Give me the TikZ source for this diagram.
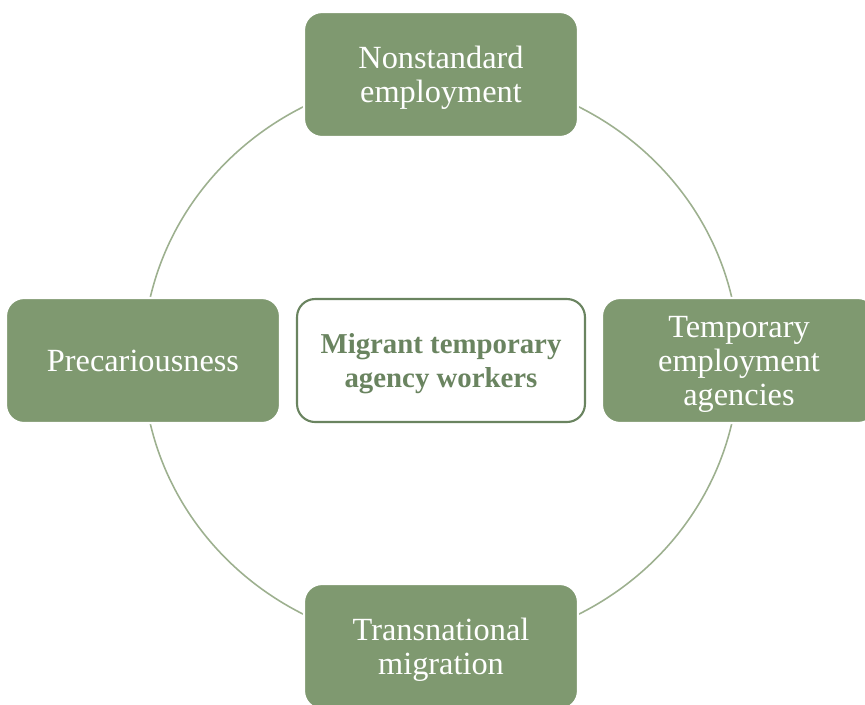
\documentclass[tikz,border=0pt]{standalone}
\usepackage{fontspec}
\setmainfont{Liberation Serif}
\usetikzlibrary{
    positioning,
    calc,
    backgrounds
}
\definecolor{sage}{HTML}{7F9970}
\definecolor{sagedark}{HTML}{6A8460}
\definecolor{ring}{HTML}{9DB08F}
\tikzset{
    % Outer topic box style
    topic/.style={
        rectangle,
        rounded corners=0.36cm,
        minimum width=5.48cm,
        minimum height=2.5cm,
        align=center,
        font=\fontsize{18.4}{19.3}\selectfont,
        text depth=0pt,
        text=white,
        fill=sage,
        draw=white,
        line width=1.2pt
    },
    % Central box style
    hub/.style={
        rectangle,
        rounded corners=0.36cm,
        minimum width=5.76cm,
        minimum height=2.46cm,
        align=center,
        font=\fontsize{16.4}{19.3}\selectfont\bfseries,
        text depth=0pt,
        text=sagedark,
        fill=white,
        draw=sagedark,
        line width=1.2pt
    },
    % Cycle line style
    cycle/.style={
        draw=ring,
        line width=0.9pt
    }
}
\begin{document}
\begin{tikzpicture}[x=0.02cm, y=-0.02cm]
    \useasboundingbox (0, 0) rectangle (865, 704);

    % Center
    \node[hub] (center) at (441, 360.5) {Migrant temporary\\agency workers};

    % Cycle ring
    \begin{scope}[on background layer]
        \draw[cycle] (center.center) ellipse [x radius=298, y radius=286];
    \end{scope}

    % Outer topics
    \node[topic] (nonstd) at (441, 74.5) {Nonstandard\\employment};
    \node[topic] (precar) at (143, 360.5) {Precariousness};
    \node[topic] (agency) at (739, 360.5) {Temporary\\employment\\agencies};
    \node[topic] (transm) at (441, 646.5) {Transnational\\migration};

\end{tikzpicture}
\end{document}
